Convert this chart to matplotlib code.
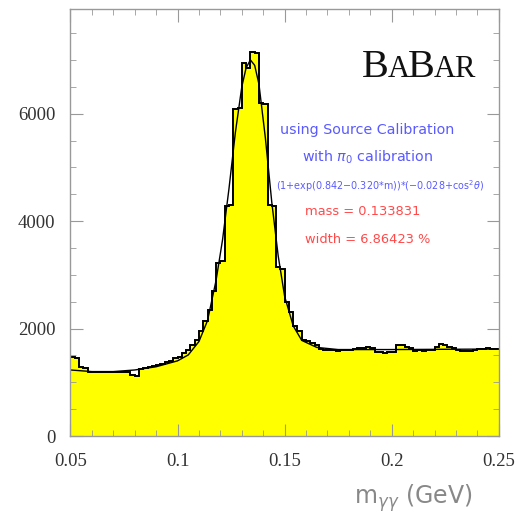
import numpy as np
import matplotlib
matplotlib.use('Agg')
import matplotlib.pyplot as plt
from matplotlib.ticker import MultipleLocator

# histogram: 100 bins of 0.002 GeV from 0.05 to 0.25
bin_lo = 0.05
bin_hi = 0.25
counts = [
    1470, 1450, 1280, 1270, 1200, 1200, 1195, 1190, 1200, 1190,
    1190, 1200, 1195, 1190, 1130, 1120, 1240, 1260, 1280, 1300,
    1320, 1350, 1380, 1400, 1450, 1470, 1550, 1600, 1700, 1780,
    1950, 2150, 2340, 2700, 3230, 3250, 4290, 4300, 6080, 6100,
    6950, 6850, 7150, 7120, 6200, 6180, 4300, 4280, 3150, 3100,
    2500, 2300, 2050, 1950, 1780, 1760, 1730, 1700, 1620, 1610,
    1600, 1610, 1590, 1600, 1610, 1600, 1620, 1630, 1640, 1650,
    1640, 1560, 1560, 1550, 1560, 1570, 1700, 1690, 1650, 1640,
    1580, 1600, 1580, 1610, 1600, 1650, 1710, 1690, 1660, 1640,
    1600, 1580, 1580, 1580, 1600, 1620, 1620, 1630, 1620, 1620,
]

# fitted curve
fit_x = [0.050, 0.060, 0.070, 0.080, 0.090, 0.100, 0.105, 0.110, 0.114,
         0.118, 0.121, 0.124, 0.127, 0.130, 0.132, 0.134, 0.136, 0.138,
         0.141, 0.144, 0.147, 0.150, 0.154, 0.158, 0.165, 0.175, 0.200,
         0.225, 0.250]
fit_y = [1230, 1200, 1200, 1230, 1290, 1400, 1510, 1760, 2150,
         2900, 3650, 4600, 5650, 6500, 6850, 7000, 6900, 6550,
         5550, 4350, 3350, 2600, 2050, 1780, 1650, 1610, 1610,
         1615, 1620]

x_ticks = [0.05, 0.1, 0.15, 0.2, 0.25]
x_tick_labels = ['0.05', '0.1', '0.15', '0.2', '0.25']
y_ticks = [0, 2000, 4000, 6000]

edges = np.linspace(bin_lo, bin_hi, len(counts) + 1)

fig = plt.figure(figsize=(5.18, 5.21), dpi=100)
ax = fig.add_axes([0.136, 0.163, 0.827, 0.820])

# yellow filled histogram with black outline
ax.stairs(counts, edges, fill=True, color='#ffff00', baseline=0)
ax.stairs(counts, edges, color='black', linewidth=1.4, baseline=None)
ax.plot(fit_x, fit_y, color='black', linewidth=1.0)

ax.set_xlim(bin_lo, bin_hi)
ax.set_ylim(0, 7950)

# ROOT style axes: ticks inside on all four sides
ax.set_xticks(x_ticks)
ax.set_xticklabels(x_tick_labels)
ax.set_yticks(y_ticks)
ax.xaxis.set_minor_locator(MultipleLocator(0.01))
ax.yaxis.set_minor_locator(MultipleLocator(500))
ax.tick_params(which='both', direction='in', top=True, right=True,
               color='#999999', labelcolor='#333333')
ax.tick_params(which='major', length=9, width=0.8, labelsize=13.5)
ax.tick_params(axis='x', which='major', pad=12)
ax.tick_params(axis='y', which='major', pad=11)
ax.tick_params(which='minor', length=4.5, width=0.6)
for lab in ax.get_xticklabels() + ax.get_yticklabels():
    lab.set_family('Liberation Serif')
for sp in ax.spines.values():
    sp.set_color('#999999')
    sp.set_linewidth(1.0)

fig.text(0.912, 0.043, r'm$_{\gamma\gamma}$ (GeV)', ha='right', va='center',
         fontsize=17, color='#888888')

# BaBar logo, large and small capitals
fig.canvas.draw()
rend = fig.canvas.get_renderer()
x_pos = 362
y_base = 521 - 77
for part, size in [('B', 29), ('A', 22), ('B', 29), ('AR', 22)]:
    t = fig.text(x_pos / 518, y_base / 521, part, fontsize=size,
                 family='Liberation Serif', color='#111111',
                 ha='left', va='baseline')
    bb = t.get_window_extent(renderer=rend)
    x_pos += bb.width - 1.5

# fit annotations
blue = '#5a5aff'
red = '#ff4a4a'
ax.text(0.692, 0.717, 'using Source Calibration', transform=ax.transAxes,
        ha='center', va='center', fontsize=10.3, color=blue)
ax.text(0.694, 0.653, r'with $\pi_0$ calibration', transform=ax.transAxes,
        ha='center', va='center', fontsize=10.3, color=blue)
ax.text(0.723, 0.585, r'(1+exp(0.842$-$0.320$*$m))$*$($-$0.028+cos$^2\theta$)',
        transform=ax.transAxes, ha='center', va='center', fontsize=6.9,
        color=blue)
ax.text(0.548, 0.525, 'mass = 0.133831', transform=ax.transAxes,
        ha='left', va='center', fontsize=9.4, color=red)
ax.text(0.548, 0.459, 'width = 6.86423 %', transform=ax.transAxes,
        ha='left', va='center', fontsize=9.4, color=red)

fig.savefig('out.png', dpi=100)
